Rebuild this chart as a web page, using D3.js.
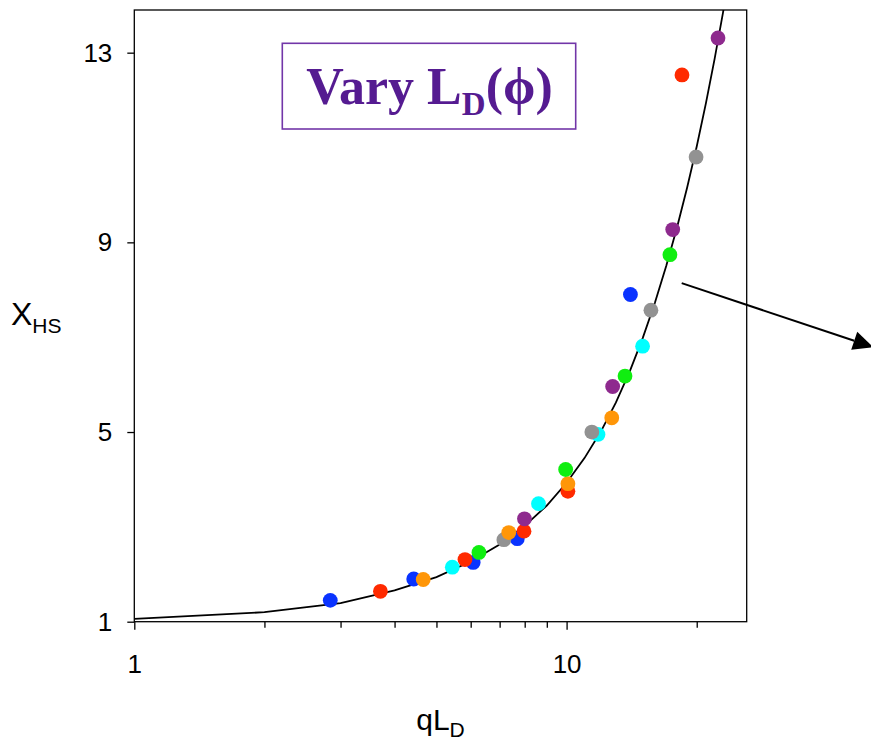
<!DOCTYPE html>
<html>
<head>
<meta charset="utf-8">
<script src="https://cdn.jsdelivr.net/npm/d3@7"></script>
<style>
  html, body { margin: 0; padding: 0; background: #fff; }
  svg { display: block; }
  text { font-family: "Liberation Sans", Arial, sans-serif; fill: #000; }
</style>
</head>
<body>
<svg id="chart" width="871" height="741"></svg>
<script>
// Model curve X_HS(qL_D)
const curveQ = [1, 2, 3, 4, 5, 6, 7, 8, 9, 10, 11, 12, 13, 14, 15, 16, 17, 18, 19, 20, 21, 22, 23, 24];
const curveX = [1.06, 1.20, 1.39, 1.66, 1.94, 2.27, 2.63, 3.02, 3.45, 3.93, 4.45, 5.01, 5.62, 6.28, 6.98, 7.72, 8.50, 9.31, 10.15, 11.02, 11.93, 12.87, 13.84, 14.85];

// Measured points, one array per L_D(phi) case: [qL_D, X_HS]
const blueSeries   = [[2.84, 1.45], [4.43, 1.90], [6.08, 2.25], [7.69, 2.75], [14.05, 7.90]];
const redSeries    = [[3.71, 1.64], [5.82, 2.31], [7.97, 2.91], [10.07, 3.75], [18.49, 12.53]];
const cyanSeries   = [[5.44, 2.15], [8.61, 3.49], [11.82, 4.95], [14.99, 6.81]];
const graySeries   = [[7.16, 2.73], [11.44, 5.00], [15.67, 7.57], [19.93, 10.80]];
const orangeSeries = [[4.66, 1.89], [7.35, 2.88], [10.07, 3.91], [12.72, 5.30]];
const greenSeries  = [[6.27, 2.46], [9.95, 4.21], [13.65, 6.18], [17.34, 8.74]];
const purpleSeries = [[7.99, 3.17], [12.78, 5.96], [17.60, 9.27], [22.40, 13.31]];

const seriesList = [
  { pts: blueSeries,   color: "#0a33ff" },
  { pts: redSeries,    color: "#ff2a00" },
  { pts: cyanSeries,   color: "#00ffff" },
  { pts: graySeries,   color: "#929292" },
  { pts: orangeSeries, color: "#ff9608" },
  { pts: greenSeries,  color: "#10ee10" },
  { pts: purpleSeries, color: "#8e2a8e" }
];

// Axis ticks
const xTicks = [1, 2, 3, 4, 5, 6, 7, 8, 9, 10, 20];
const xTickLabels = [1, 10];
const yTicks = [1, 5, 9, 13];

// Arrow annotation in data coordinates
const arrowFrom = [18.46, 8.14];
const arrowTo = [51.2, 6.79];

const plot = { left: 134.3, right: 746.7, top: 10, bottom: 621.7 };

const svg = d3.select("#chart");

const x = d3.scaleLog().domain([1, 26.1]).range([plot.left, plot.right]);
const y = d3.scaleLinear().domain([1, 13.9]).range([plot.bottom, plot.top]);

svg.append("defs").append("clipPath").attr("id", "plotClip")
  .append("rect")
  .attr("x", plot.left).attr("y", plot.top)
  .attr("width", plot.right - plot.left).attr("height", plot.bottom - plot.top);

// X axis
const xAxis = svg.append("g")
  .attr("transform", `translate(0,${plot.bottom})`)
  .call(d3.axisBottom(x).tickValues(xTicks).tickSize(6)
    .tickFormat(d => xTickLabels.includes(d) ? String(d) : ""));
xAxis.select(".domain").remove();
xAxis.selectAll(".tick line")
  .attr("stroke", "#000").attr("stroke-width", 1.3)
  .attr("y2", d => xTickLabels.includes(d) ? 8 : 6);
xAxis.selectAll(".tick text")
  .attr("dy", null).attr("y", 51)
  .style("font-size", "26px");

// Y axis
const yAxis = svg.append("g")
  .attr("transform", `translate(${plot.left},0)`)
  .call(d3.axisLeft(y).tickValues(yTicks).tickSize(7).tickPadding(15));
yAxis.select(".domain").remove();
yAxis.selectAll(".tick line").attr("stroke", "#000").attr("stroke-width", 1.3);
yAxis.selectAll(".tick text").style("font-size", "26px");

// Frame
svg.append("rect")
  .attr("x", plot.left).attr("y", plot.top)
  .attr("width", plot.right - plot.left).attr("height", plot.bottom - plot.top)
  .attr("fill", "none").attr("stroke", "#000").attr("stroke-width", 1.3);

// Model curve
const curveData = curveQ.map((q, i) => [q, curveX[i]]);
svg.append("path")
  .datum(curveData)
  .attr("clip-path", "url(#plotClip)")
  .attr("fill", "none").attr("stroke", "#000").attr("stroke-width", 1.8)
  .attr("d", d3.line().x(d => x(d[0])).y(d => y(d[1])));

// Points
seriesList.forEach(s => {
  svg.append("g").selectAll("circle")
    .data(s.pts).join("circle")
    .attr("cx", d => x(d[0])).attr("cy", d => y(d[1]))
    .attr("r", 7.4).attr("fill", s.color);
});

// Title box
const titleColor = "#551b91";
svg.append("rect")
  .attr("x", 282.3).attr("y", 43.3).attr("width", 293.4).attr("height", 85.7)
  .attr("fill", "none").attr("stroke", "#7236a8").attr("stroke-width", 1.6);
const title = svg.append("text")
  .attr("x", 429.5).attr("y", 103.5)
  .attr("text-anchor", "middle")
  .style("font-family", "'Liberation Serif', 'Times New Roman', serif")
  .style("font-weight", "bold").style("font-size", "52px")
  .style("fill", titleColor);
title.append("tspan").text("Vary L");
title.append("tspan").attr("dy", 11.5).style("font-size", "33px").text("D");
title.append("tspan").attr("dy", -11.5).text("(\u03D5)");

// Axis titles
const xt = svg.append("text")
  .attr("x", (plot.left + plot.right) / 2).attr("y", 730)
  .attr("text-anchor", "middle").style("font-size", "30px");
xt.append("tspan").text("qL");
xt.append("tspan").attr("dy", 7).style("font-size", "21px").text("D");

const yt = svg.append("text")
  .attr("x", 11).attr("y", 325).style("font-size", "32px");
yt.append("tspan").text("X");
yt.append("tspan").attr("dy", 8).style("font-size", "21px").text("HS");

// Arrow
const ax0 = x(arrowFrom[0]), ay0 = y(arrowFrom[1]);
const ax1 = x(arrowTo[0]), ay1 = y(arrowTo[1]);
const len = Math.hypot(ax1 - ax0, ay1 - ay0);
const ux = (ax1 - ax0) / len, uy = (ay1 - ay0) / len;
const headLen = 20, headHalf = 9.5;
const bx = ax1 - ux * headLen, by = ay1 - uy * headLen;
svg.append("line")
  .attr("x1", ax0).attr("y1", ay0).attr("x2", bx).attr("y2", by)
  .attr("stroke", "#000").attr("stroke-width", 2);
svg.append("polygon")
  .attr("points", [
    [ax1, ay1],
    [bx - uy * headHalf, by + ux * headHalf],
    [bx + uy * headHalf, by - ux * headHalf]
  ].map(p => p.join(",")).join(" "))
  .attr("fill", "#000");
</script>
</body>
</html>
